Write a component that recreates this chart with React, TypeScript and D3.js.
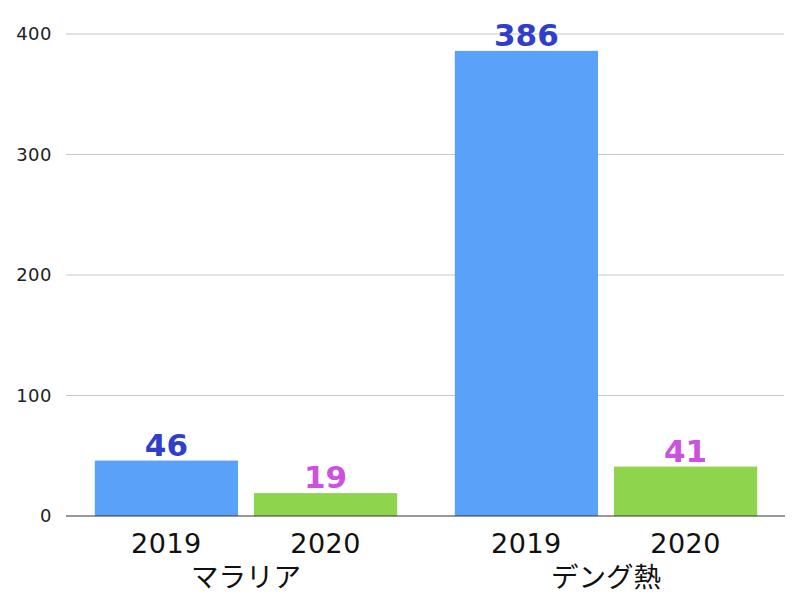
import * as d3 from "d3";
import { useEffect, useRef } from "react";

const diseases = ["マラリア", "デング熱"];
const years = ["2019", "2020"];
const cases2019 = [46, 386];
const cases2020 = [19, 41];
const yTicks = [0, 100, 200, 300, 400];

const barColors = ["#5aa1f9", "#8ed54d"];
const labelColors = ["#2f3fcb", "#cd51e0"];
const numFont = "'DejaVu Sans', 'Noto Sans', sans-serif";
const jpFont = "'Noto Sans CJK JP', 'Noto Sans', sans-serif";

export default function App() {
  const ref = useRef<SVGSVGElement>(null);

  useEffect(() => {
    const width = 800;
    const height = 603;
    const svg = d3.select(ref.current);
    svg.selectAll("*").remove();
    svg.attr("width", width).attr("height", height);

    const y = d3.scaleLinear().domain([0, 400]).range([516, 34]);
    const x0 = d3.scaleBand().domain(diseases).range([66, 786]).paddingInner(0.16).paddingOuter(0.08);
    const x1 = d3.scaleBand().domain(years).range([0, x0.bandwidth()]).paddingInner(0.1);

    // gridlines
    svg.append("g")
      .selectAll("line")
      .data(yTicks.filter(t => t > 0))
      .enter()
      .append("line")
      .attr("x1", 66)
      .attr("x2", 784)
      .attr("y1", d => y(d))
      .attr("y2", d => y(d))
      .attr("stroke", "#c8c8c8")
      .attr("stroke-width", 1);

    svg.append("g")
      .selectAll("text")
      .data(yTicks)
      .enter()
      .append("text")
      .attr("x", 52)
      .attr("y", d => y(d))
      .attr("dy", "0.36em")
      .attr("text-anchor", "end")
      .attr("font-family", numFont)
      .attr("font-size", 18)
      .attr("letter-spacing", 0.5)
      .attr("fill", "#222")
      .text(d => d);

    const rows = diseases.map((name, i) => ({ name, values: [cases2019[i], cases2020[i]] }));

    const groups = svg.append("g")
      .selectAll("g")
      .data(rows)
      .enter()
      .append("g")
      .attr("transform", d => `translate(${x0(d.name)},0)`);

    groups.selectAll("rect")
      .data(d => d.values.map((v, j) => ({ year: years[j], v, j })))
      .enter()
      .append("rect")
      .attr("x", d => x1(d.year)!)
      .attr("y", d => y(d.v))
      .attr("width", x1.bandwidth())
      .attr("height", d => y(0) - y(d.v))
      .attr("fill", d => barColors[d.j]);

    groups.selectAll("text.val")
      .data(d => d.values.map((v, j) => ({ year: years[j], v, j })))
      .enter()
      .append("text")
      .attr("class", "val")
      .attr("x", d => x1(d.year)! + x1.bandwidth() / 2)
      .attr("y", d => y(d.v) - 5)
      .attr("text-anchor", "middle")
      .attr("font-family", numFont)
      .attr("font-weight", "bold")
      .attr("font-size", 31)
      .attr("fill", d => labelColors[d.j])
      .text(d => d.v);

    groups.selectAll("text.year")
      .data(years)
      .enter()
      .append("text")
      .attr("class", "year")
      .attr("x", d => x1(d)! + x1.bandwidth() / 2)
      .attr("y", 553)
      .attr("text-anchor", "middle")
      .attr("font-family", numFont)
      .attr("font-size", 27)
      .attr("letter-spacing", 0.5)
      .attr("fill", "#111")
      .text(d => d);

    groups.append("text")
      .attr("x", x0.bandwidth() / 2)
      .attr("y", 587)
      .attr("text-anchor", "middle")
      .attr("font-family", jpFont)
      .attr("font-size", 27.5)
      .attr("fill", "#111")
      .text(d => d.name);

    // zero axis
    svg.append("line")
      .attr("x1", 66)
      .attr("x2", 785)
      .attr("y1", y(0))
      .attr("y2", y(0))
      .attr("stroke", "#333")
      .attr("stroke-width", 1.2);
  }, []);

  return (
    <svg ref={ref} style={{ position: "absolute", left: 0, top: 0 }} />
  );
}
